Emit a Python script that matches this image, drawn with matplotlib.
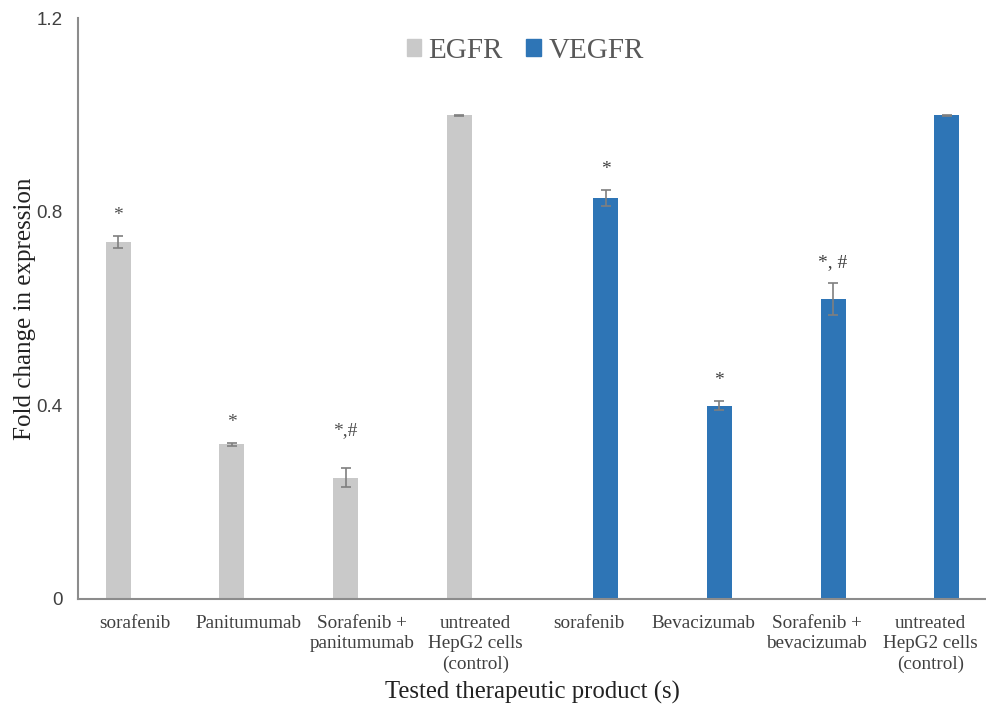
import numpy as np
import matplotlib.pyplot as plt
from matplotlib.patches import Patch

# Data
categories = ["sorafenib", "Panitumumab", "Sorafenib +\npanitumumab",
              "untreated\nHepG2 cells\n(control)", "sorafenib", "Bevacizumab",
              "Sorafenib +\nbevacizumab", "untreated\nHepG2 cells\n(control)"]
egfr = [0.737, 0.319, 0.250, 1.0, 0, 0, 0, 0]
egfr_err = [0.012, 0.003, 0.019, 0.001, 0, 0, 0, 0]
vegfr = [0, 0, 0, 0, 0.828, 0.399, 0.619, 1.0]
vegfr_err = [0, 0, 0, 0, 0.017, 0.010, 0.033, 0.001]
egfr_marks = ["*", "*", "*,#", "", "", "", "", ""]
vegfr_marks = ["", "", "", "", "*", "*", "*, #", ""]

serif = "Liberation Serif"
sans = "Liberation Sans"
grey_c = "#c9c9c9"
blue_c = "#2e75b6"

fig = plt.figure(figsize=(9.87, 7.1), dpi=100)
ax = fig.add_axes([0.079, 0.157, 0.921, 0.817])

x = np.arange(len(categories))
w = 0.22
off = 0.145
ekw = dict(ecolor="#7f7f7f", elinewidth=1.2, capthick=1.2)
ax.bar(x - off, egfr, w, color=grey_c, yerr=egfr_err, capsize=3.5, error_kw=ekw)
ax.bar(x + off, vegfr, w, color=blue_c, yerr=vegfr_err, capsize=3.5, error_kw=ekw)

# significance marks above the error bars
for i in range(len(categories)):
    if egfr_marks[i]:
        gap = 0.06 if "#" in egfr_marks[i] else 0.025
        ax.text(x[i] - off, egfr[i] + egfr_err[i] + gap, egfr_marks[i],
                ha="center", va="bottom", fontsize=14, family=serif, color="#505050")
    if vegfr_marks[i]:
        ax.text(x[i] + off, vegfr[i] + vegfr_err[i] + 0.025, vegfr_marks[i],
                ha="center", va="bottom", fontsize=14, family=serif, color="#404040")

ax.set_xlim(-0.5, 7.5)
ax.set_ylim(0, 1.2)
ax.set_yticks([0, 0.4, 0.8, 1.2])
ax.set_yticklabels(["0", "0.4", "0.8", "1.2"], family=sans, fontsize=13.5, color="#404040")
ax.set_xticks(x)
ax.set_xticklabels(categories, family=serif, fontsize=13.8, color="#404040",
                   linespacing=1.25)
ax.tick_params(length=0)
ax.tick_params(axis="x", pad=12)
ax.tick_params(axis="y", pad=11)

for s in ["top", "right"]:
    ax.spines[s].set_visible(False)
for s in ["left", "bottom"]:
    ax.spines[s].set_color("#8c8c8c")
    ax.spines[s].set_linewidth(1.5)

ax.set_ylabel("Fold change in expression", family=serif, fontsize=18, color="#222222",
              labelpad=0)
ax.set_xlabel("Tested therapeutic product (s)", family=serif, fontsize=17.8,
              color="#222222", labelpad=6)

handles = [Patch(color=grey_c, label="EGFR"), Patch(color=blue_c, label="VEGFR")]
ax.legend(handles=handles, loc="upper center", bbox_to_anchor=(0.492, 1.012), ncol=2,
          frameon=False, prop=dict(family=serif, size=21), labelcolor="#595959",
          handlelength=0.5, handleheight=0.5, handletextpad=0.25, columnspacing=0.8)

fig.savefig("out.png", dpi=100)
